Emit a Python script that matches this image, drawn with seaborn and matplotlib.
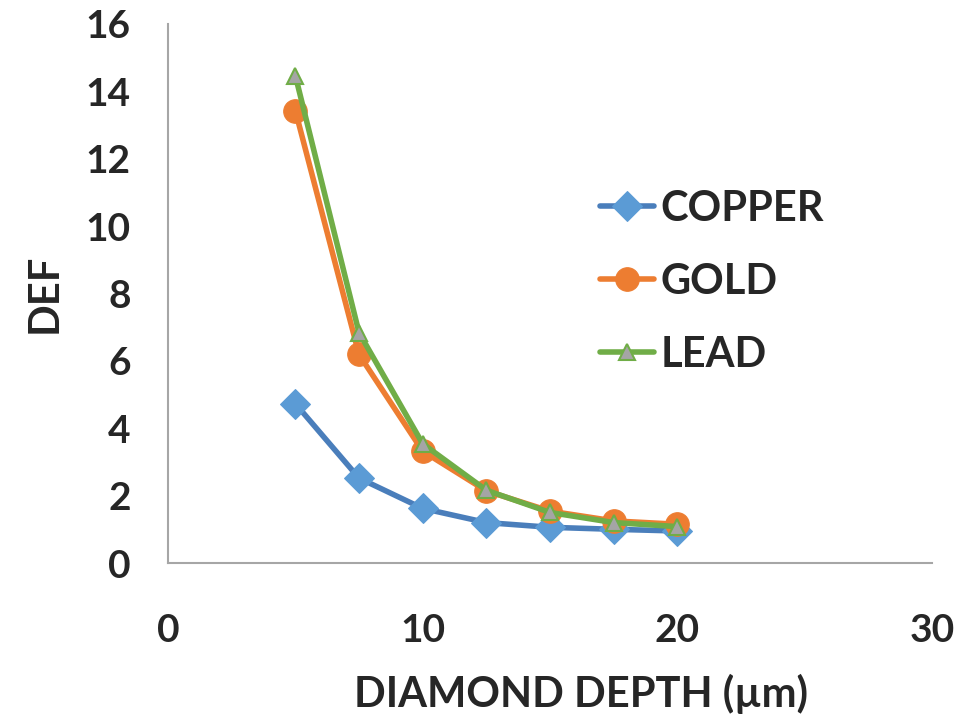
import matplotlib
matplotlib.use("Agg")
import matplotlib.pyplot as plt
import seaborn as sns
import pandas as pd

# Indentation depth in micrometres
depth = [5, 7.5, 10, 12.5, 15, 17.5, 20]

# Deformation values per metal
copper = [4.73, 2.52, 1.62, 1.20, 1.06, 1.00, 0.95]
gold = [13.43, 6.19, 3.32, 2.14, 1.54, 1.25, 1.15]
lead = [14.47, 6.84, 3.54, 2.16, 1.50, 1.20, 1.08]

series_names = ["COPPER", "GOLD", "LEAD"]
x_ticks = [0, 10, 20, 30]
y_ticks = [0, 2, 4, 6, 8, 10, 12, 14, 16]

sns.set_theme(style="white")
plt.rcParams["font.family"] = ["Lato", "DejaVu Sans"]
plt.rcParams["font.weight"] = "bold"

df = pd.DataFrame({
    "depth": depth * 3,
    "DEF": copper + gold + lead,
    "metal": [n for n in series_names for _ in depth],
})

styles = {
    "COPPER": dict(color="#4a7ebb", marker="D", markersize=15,
                   markerfacecolor="#5b9bd5", markeredgecolor="#5b9bd5"),
    "GOLD": dict(color="#ed7d31", marker="o", markersize=17,
                 markerfacecolor="#ed7d31", markeredgecolor="#ed7d31"),
    "LEAD": dict(color="#70ad47", marker="^", markersize=11,
                 markerfacecolor="#a5a5a5", markeredgecolor="#70ad47",
                 markeredgewidth=1.5),
}

fig = plt.figure(figsize=(9.68, 7.24), dpi=100)
ax = fig.add_axes([168 / 968, 1 - 563 / 724, (932 - 168) / 968, (563 - 24) / 724])

for name in series_names:
    sub = df[df["metal"] == name]
    sns.lineplot(data=sub, x="depth", y="DEF", ax=ax, label=name,
                 linewidth=4, **styles[name])

ax.set_xlim(0, 30)
ax.set_ylim(0, 16)
ax.set_xticks(x_ticks)
ax.set_yticks(y_ticks)
ax.tick_params(axis="both", length=0, labelsize=28)
ax.tick_params(axis="x", pad=36)
ax.tick_params(axis="y", pad=27)
for lab in ax.get_xticklabels() + ax.get_yticklabels():
    lab.set_fontweight("bold")

ax.set_xlabel("DIAMOND DEPTH (µm)", fontsize=30, fontweight="bold")
ax.xaxis.set_label_coords(0.54, -0.205)
ax.set_ylabel("DEF", fontsize=30, fontweight="bold", labelpad=16)

for side in ["top", "right"]:
    ax.spines[side].set_visible(False)
for side in ["left", "bottom"]:
    ax.spines[side].set_color("#a6a6a6")
    ax.spines[side].set_linewidth(1.5)

leg = ax.legend(loc="upper left", bbox_to_anchor=(600 / 968, 1 - 190 / 724),
                bbox_transform=fig.transFigure, frameon=False, fontsize=30,
                handlelength=1.3, handletextpad=0.15, labelspacing=0.84,
                borderpad=0, borderaxespad=0)
for t in leg.get_texts():
    t.set_fontweight("bold")

fig.savefig("out.png", dpi=100, facecolor="white")
